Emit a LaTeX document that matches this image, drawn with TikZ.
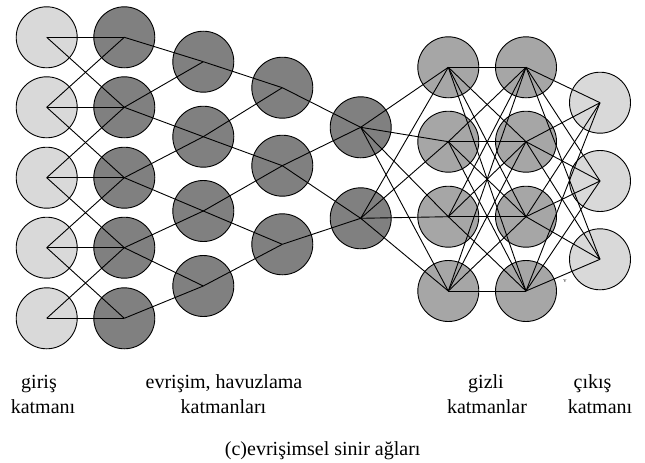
\documentclass[tikz,border=0pt]{standalone}
\usepackage{fontspec}
\setmainfont{Liberation Serif}
\definecolor{lightfill}{HTML}{D9D9D9}
\definecolor{convfill}{HTML}{808080}
\definecolor{hidfill}{HTML}{A6A6A6}
\begin{document}
\begin{tikzpicture}[x=1pt,y=-1pt,
  neuron/.style={circle,draw=black,line width=0.9pt,minimum size=61pt,inner sep=0pt},
  ionode/.style={neuron,fill=lightfill},
  convnode/.style={neuron,fill=convfill},
  hidnode/.style={neuron,fill=hidfill},
  edge/.style={draw=black,line width=0.9pt},
  caption/.style={font=\fontsize{20}{24}\selectfont,anchor=base,inner sep=0pt}]
\useasboundingbox (0,0) rectangle (645,463);

% input layer and first convolution layer
\foreach \y [count=\i] in {37.3,107.3,177.7,247.7,318.3} {
  \node[ionode] (in\i) at (46.7,\y) {};
  \node[convnode] (c\i) at (124.3,\y) {};
}
% pooling / further convolution layers
\foreach \y [count=\i] in {61.7,136.7,211,286}
  \node[convnode] (p\i) at (203.3,\y) {};
\foreach \y [count=\i] in {87.7,165.7,244.3}
  \node[convnode] (q\i) at (282.3,\y) {};
\foreach \y [count=\i] in {127.3,218.3}
  \node[convnode] (r\i) at (360.7,\y) {};
% hidden layers
\foreach \y [count=\i] in {67.3,141.7,216.7,291} {
  \node[hidnode] (h\i) at (448.3,\y) {};
  \node[hidnode] (k\i) at (526,\y) {};
}
% output layer
\foreach \y [count=\i] in {102.7,181,259.3}
  \node[ionode] (o\i) at (600,\y) {};

% local connections
\foreach \a/\b in {1/1,2/2,3/3,4/4,5/5,1/2,2/1,2/3,3/2,3/4,4/3,4/5,5/4}
  \draw[edge] (in\a.center) -- (c\b.center);
\foreach \a/\b in {1/1,2/1,2/2,3/2,3/3,4/3,4/4,5/4}
  \draw[edge] (c\a.center) -- (p\b.center);
\foreach \a/\b in {1/1,2/1,2/2,3/2,3/3,4/3}
  \draw[edge] (p\a.center) -- (q\b.center);
\foreach \a/\b in {1/1,2/1,2/2,3/2}
  \draw[edge] (q\a.center) -- (r\b.center);

% fully connected part
\foreach \a in {1,2}
  \foreach \b in {1,...,4}
    \draw[edge] (r\a.center) -- (h\b.center);
\foreach \a in {1,...,4}
  \foreach \b in {1,...,4}
    \draw[edge] (h\a.center) -- (k\b.center);
\foreach \a in {1,...,4}
  \foreach \b in {1,2,3}
    \draw[edge] (k\a.center) -- (o\b.center);

\node[font=\fontsize{6.5}{7}\selectfont,text=black!80,inner sep=0pt] (vmark) at (565,281) {v};

% layer labels
\node[caption] (t1) at (39,388) {giriş};
\node[caption] (t2) at (43,413) {katmanı};
\node[caption] (t3) at (224,388) {evrişim, havuzlama};
\node[caption] (t4) at (223.5,413) {katmanları};
\node[caption] (t5) at (486,388) {gizli};
\node[caption] (t6) at (487,413) {katmanlar};
\node[caption] (t7) at (592.5,388) {çıkış};
\node[caption] (t8) at (600,413) {katmanı};
\node[caption] (t9) at (322.7,455) {(c)evrişimsel sinir ağları};
\end{tikzpicture}
\end{document}
